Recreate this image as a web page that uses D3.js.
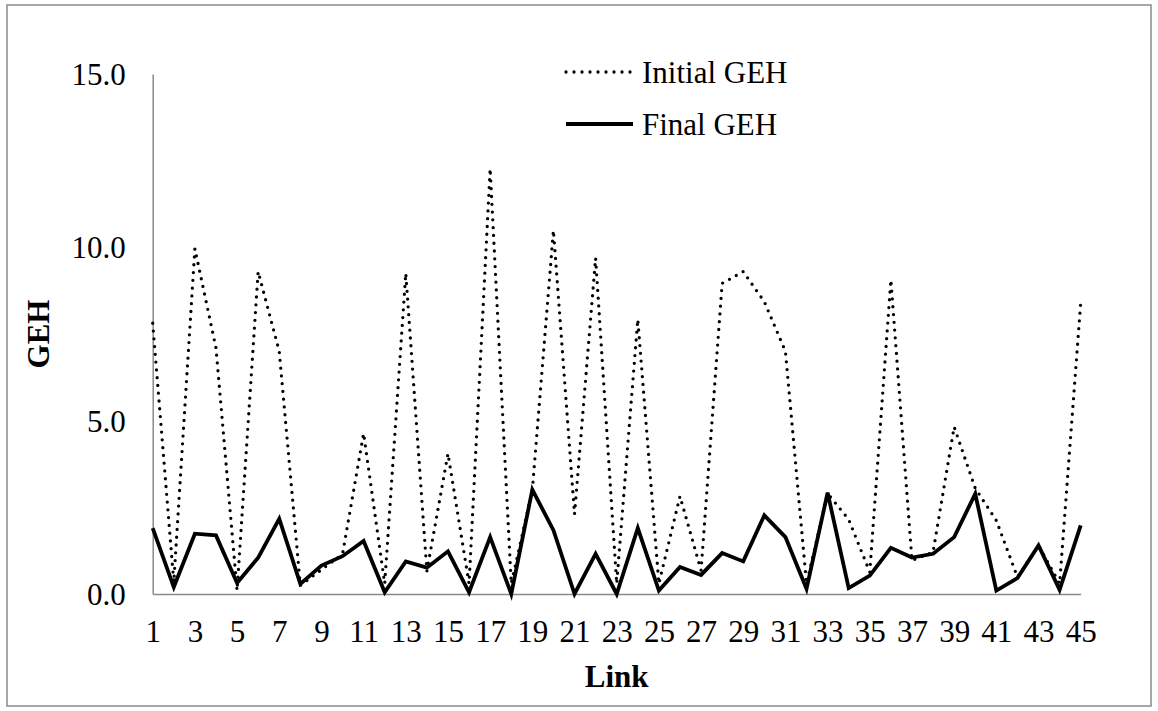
<!DOCTYPE html>
<html>
<head>
<meta charset="utf-8">
<script src="https://cdn.jsdelivr.net/npm/d3@7"></script>
<style>
  html, body { margin: 0; padding: 0; background: #fff; }
  svg { display: block; }
  svg text { font-family: "Liberation Serif", "Times New Roman", "DejaVu Serif", serif !important; fill: #000; }
</style>
</head>
<body>
<svg id="chart" width="1158" height="711"></svg>
<script>
const links = d3.range(1, 46);
const initialGEH = [7.81, 0.35, 9.96, 7.1, 0.1, 9.30, 7.0, 0.25, 0.7, 1.15,
  4.63, 0.3, 9.25, 0.66, 4.05, 0.3, 12.27, 0.3, 3.0, 10.49,
  2.30, 9.69, 0.3, 7.92, 0.3, 2.82, 0.68, 8.96, 9.30, 8.43,
  7.0, 0.3, 2.9, 2.15, 0.63, 9.06, 0.97, 1.21, 4.82, 3.05,
  2.12, 0.49, 1.4, 0.3, 8.40];
const finalGEH = [1.90, 0.2, 1.74, 1.69, 0.32, 1.05, 2.17, 0.29, 0.82, 1.09,
  1.53, 0.05, 0.94, 0.76, 1.23, 0.05, 1.64, 0.0, 3.01, 1.84,
  0.0, 1.16, 0.0, 1.90, 0.1, 0.78, 0.55, 1.18, 0.94, 2.27,
  1.64, 0.15, 2.92, 0.17, 0.53, 1.33, 1.05, 1.16, 1.64, 2.89,
  0.1, 0.46, 1.40, 0.12, 1.98];
const yTicks = [0, 5, 10, 15];
const xTicks = links.filter(d => d % 2 === 1);
const seriesNames = ["Initial GEH", "Final GEH"];

const svg = d3.select("#chart");
const plotLeft = 152.7, plotRight = 1080.7, plotTop = 74, plotBottom = 594;
const serif = '"Liberation Serif", "Times New Roman", serif';

// outer frame
svg.append("rect").attr("x", 7).attr("y", 5).attr("width", 1144).attr("height", 701)
  .attr("fill", "none").attr("stroke", "#8a8a8a").attr("stroke-width", 1.5);

const x = d3.scaleLinear().domain([1, 45]).range([plotLeft, plotRight]);
const y = d3.scaleLinear().domain([0, 15]).range([plotBottom, plotTop]);

// axes
const yAxis = svg.append("g").attr("transform", `translate(${plotLeft},0)`)
  .call(d3.axisLeft(y).tickValues(yTicks).tickSize(0).tickPadding(27).tickFormat(d3.format(".1f")));
const xAxis = svg.append("g").attr("transform", `translate(0,${plotBottom})`)
  .call(d3.axisBottom(x).tickValues(xTicks).tickSize(0).tickPadding(26).tickFormat(d3.format("d")));
[yAxis, xAxis].forEach(g => {
  g.attr("font-family", serif).attr("font-size", 31);
  g.select(".domain").attr("stroke", "#8a8a8a").attr("stroke-width", 1.5);
  g.selectAll("text").attr("fill", "#000");
});
yAxis.selectAll("text").attr("dy", "0.34em");

// lines
const line = d3.line().x((d, i) => x(links[i])).y(d => y(d));
svg.append("path").datum(initialGEH).attr("d", line).attr("fill", "none")
  .attr("stroke", "#000").attr("stroke-width", 3.3).attr("stroke-linecap", "round")
  .attr("stroke-linejoin", "round").attr("stroke-dasharray", "0 7.8");
svg.append("path").datum(finalGEH).attr("d", line).attr("fill", "none")
  .attr("stroke", "#000").attr("stroke-width", 3.8).attr("stroke-linejoin", "miter");

// axis titles
svg.append("text").attr("x", 616.7).attr("y", 676).attr("dy", "0.35em").attr("text-anchor", "middle")
  .attr("font-family", serif).attr("font-size", 31).attr("font-weight", "bold").text("Link");
svg.append("text").attr("transform", "translate(38,334) rotate(-90)").attr("dy", "0.35em")
  .attr("text-anchor", "middle").attr("font-family", serif).attr("font-size", 31)
  .attr("font-weight", "bold").text("GEH");

// legend
const legend = svg.append("g");
const rows = [{name: seriesNames[0], y: 72, dash: "0 8", w: 3.3, cap: "round"},
              {name: seriesNames[1], y: 124, dash: null, w: 3.8, cap: "butt"}];
rows.forEach(r => {
  legend.append("line").attr("x1", 566).attr("x2", 633).attr("y1", r.y).attr("y2", r.y)
    .attr("stroke", "#000").attr("stroke-width", r.w).attr("stroke-linecap", r.cap)
    .attr("stroke-dasharray", r.dash);
  legend.append("text").attr("x", 642).attr("y", r.y).attr("dy", "0.35em")
    .attr("font-family", serif).attr("font-size", 31).text(r.name);
});
</script>
</body>
</html>
